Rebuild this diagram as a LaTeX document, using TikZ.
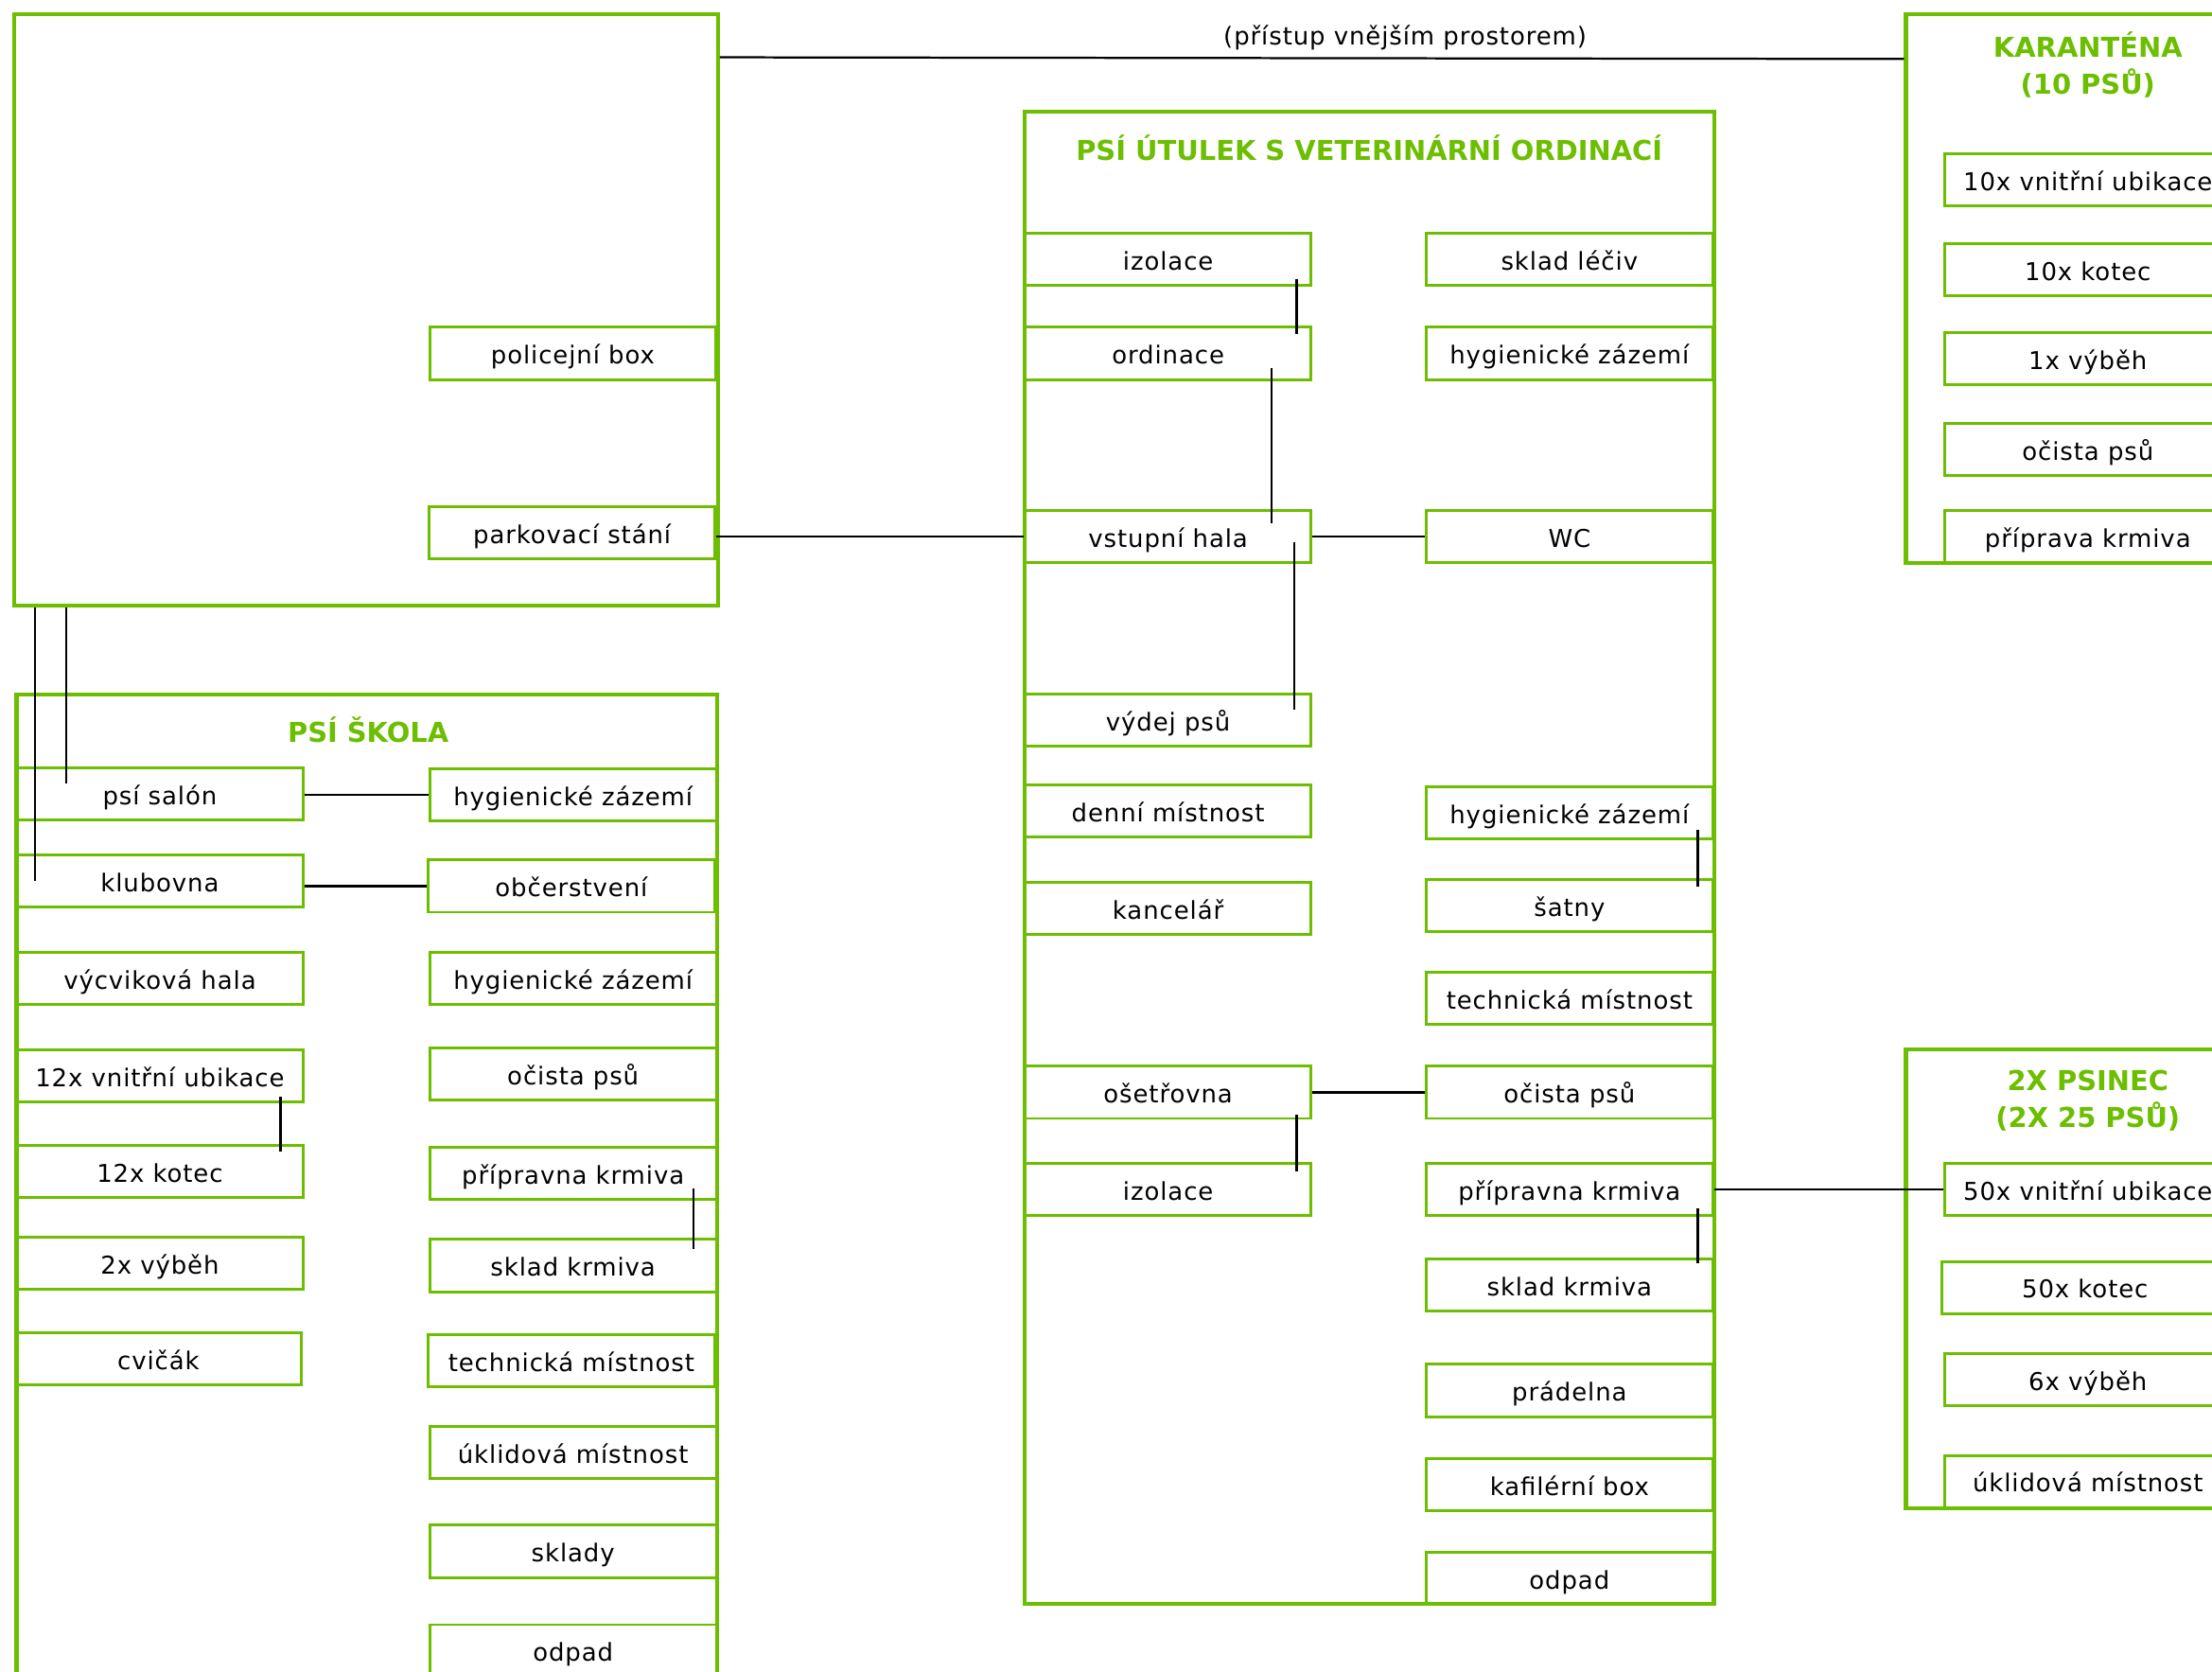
\documentclass[tikz,border=0pt]{standalone}
\usepackage{fontspec}
\setmainfont{DejaVu Sans}[LetterSpace=3.5]
\newfontfamily\titlefont{DejaVu Sans}
\usetikzlibrary{calc}
\definecolor{grn}{RGB}{108,190,0}
\tikzset{
  room/.style={draw=grn, line width=1pt, minimum width=101.5pt, minimum height=18.5pt,
    inner sep=0pt, text height=8.6pt, text depth=1pt,
    font=\fontsize{8.7}{10}\selectfont, text=black},
  zone/.style={draw=grn, line width=1.4pt, inner sep=0pt},
  ttl/.style={font=\titlefont\bfseries\fontsize{9.7}{13}\selectfont, text=grn, align=center, inner sep=0pt},
  note/.style={font=\fontsize{8.7}{10}\selectfont, text=black, inner sep=0pt},
  link/.style={draw=black, line width=0.75pt},
}
\begin{document}
\begin{tikzpicture}[x=0.5pt,y=-0.5pt]
\useasboundingbox (0,0) rectangle (1568,1185);
\clip (0,0) rectangle (1568,1185);

% zones
\node[zone, minimum width=249.5pt, minimum height=209.5pt] (area) at (259.3,219.5) {};
\node[zone, minimum width=244.4pt, minimum height=529pt] (shelter) at (970.6,608) {};
\node[zone, minimum width=134.5pt, minimum height=194.6pt] (karan) at (1485.5,204.4) {};
\node[zone, minimum width=134.5pt, minimum height=162.7pt] (psinec) at (1485.5,906.3) {};
\node[zone, minimum width=248.4pt, minimum height=364pt] (school) at (260.1,856) {};

% titles
\node[ttl] (tshelter) at (970.6,105) {PSÍ ÚTULEK S VETERINÁRNÍ ORDINACÍ};
\node[ttl] (tkaran) at (1480,46) {KARANTÉNA\\(10 PSŮ)};
\node[ttl] (tpsinec) at (1480,780) {2X PSINEC\\(2X 25 PSŮ)};
\node[ttl] (tschool) at (261,517) {PSÍ ŠKOLA};
\node[note] (access) at (996,26.5) {(přístup vnějším prostorem)};

% top-left area
\node[room] (police) at (406,250.5) {policejní box};
\node[room] (parking) at (405.5,377.7) {parkovací stání};

% shelter, left column
\node[room] (mizol1) at (828,184) {izolace};
\node[room] (mordin) at (828,250.5) {ordinace};
\node[room] (mhala) at (828,380.5) {vstupní hala};
\node[room] (mvydej) at (828,510.5) {výdej psů};
\node[room] (mdenni) at (828,575) {denní místnost};
\node[room] (mkanc) at (828,643.8) {kancelář};
\node[room] (moset) at (828,774.2) {ošetřovna};
\node[room] (mizol2) at (828,843) {izolace};
% shelter, right column
\node[room] (mlek) at (1112.5,184) {sklad léčiv};
\node[room] (mhyg1) at (1112.5,250.5) {hygienické zázemí};
\node[room] (mwc) at (1112.5,380.5) {WC};
\node[room] (mhyg2) at (1112.5,576) {hygienické zázemí};
\node[room] (msatny) at (1112.5,642) {šatny};
\node[room] (mtech) at (1112.5,707.5) {technická místnost};
\node[room] (mocista) at (1112.5,774.2) {očista psů};
\node[room] (mprip) at (1112.5,843) {přípravna krmiva};
\node[room] (msklad) at (1112.5,911) {sklad krmiva};
\node[room] (mprad) at (1112.5,985.5) {prádelna};
\node[room] (mkafil) at (1112.5,1052.5) {kafilérní box};
\node[room] (modpad) at (1112.5,1118.5) {odpad};

% quarantine
\node[room] (kub) at (1480,127.5) {10x vnitřní ubikace};
\node[room] (kkot) at (1480,191) {10x kotec};
\node[room] (kvyb) at (1480,254) {1x výběh};
\node[room] (kocis) at (1480,318.5) {očista psů};
\node[room] (kprip) at (1480,380.5) {příprava krmiva};

% kennels
\node[room] (pub) at (1480,843) {50x vnitřní ubikace};
\node[room] (pkot) at (1478,912.5) {50x kotec};
\node[room] (pvyb) at (1480,977.8) {6x výběh};
\node[room] (pukl) at (1480,1050) {úklidová místnost};

% dog school, left column
\node[room] (ssalon) at (113.3,562.5) {psí salón};
\node[room] (sklub) at (113.3,624.5) {klubovna};
\node[room] (svycvik) at (113.3,693.5) {výcviková hala};
\node[room] (subik) at (113.3,762.7) {12x vnitřní ubikace};
\node[room] (skotec) at (113.3,830.5) {12x kotec};
\node[room] (svybeh) at (113.3,895.3) {2x výběh};
\node[room] (scvicak) at (112.3,963) {cvičák};
% dog school, right column
\node[room] (shyg1) at (406.2,563.5) {hygienické zázemí};
\node[room] (sobc) at (405,628) {občerstvení};
\node[room] (shyg2) at (406.2,693.5) {hygienické zázemí};
\node[room] (socista) at (406.2,761) {očista psů};
\node[room] (sprip) at (406.2,831.5) {přípravna krmiva};
\node[room] (ssklad) at (406.2,897) {sklad krmiva};
\node[room] (stech) at (405,964.5) {technická místnost};
\node[room] (sukl) at (406.2,1029.5) {úklidová místnost};
\node[room] (ssklady) at (406.2,1099.5) {sklady};
\node[room] (sodpad) at (406.2,1170) {odpad};

% connectors
\draw[link] ($(area.north east)+(0,32)$) -- ($(karan.north west)+(0,33.4)$);
\draw[link] (parking.east |- mhala.west) -- (mhala.west);
\draw[link] (mhala.east) -- (mwc.west);
\draw[link] ($(mizol1.south east)+(-11.4,-6)$) -- ($(mordin.north east)+(-11.4,6)$);
\draw[link] ($(mordin.south east)+(-29.3,-9)$) -- ($(mhala.north east)+(-29.3,9.6)$);
\draw[link] ($(mhala.south east)+(-13.1,-15.8)$) -- ($(mvydej.north east)+(-13.1,12)$);
\draw[link] ($(mhyg2.south east)+(-11.5,-7.4)$) -- ($(msatny.north east)+(-11.5,6)$);
\draw[link] (moset.east) -- (mocista.west);
\draw[link] ($(moset.south east)+(-11.4,-3.6)$) -- ($(mizol2.north east)+(-11.4,6.7)$);
\draw[link] ($(mprip.south east)+(-11.5,-6.2)$) -- ($(msklad.north east)+(-11.5,4)$);
\draw[link] (mprip.east) -- (pub.west);

\coordinate (va) at ($(area.south west)+(16.6,0)$);
\coordinate (vb) at ($(area.south west)+(38.6,0)$);
\coordinate (vbend) at ($(ssalon.center)+(0,-7.5)$);
\draw[link] (va) -- (va |- sklub.center);
\draw[link] (vb) -- (vb |- vbend);
\draw[link] (ssalon.east |- shyg1.west) -- (shyg1.west);
\draw[link] (sklub.east |- sobc.west) -- (sobc.west);
\draw[link] ($(subik.south east)+(-17,-5)$) -- ($(skotec.north east)+(-17,5)$);
\draw[link] ($(sprip.south east)+(-17,-9)$) -- ($(ssklad.north east)+(-17,8)$);
\end{tikzpicture}
\end{document}
